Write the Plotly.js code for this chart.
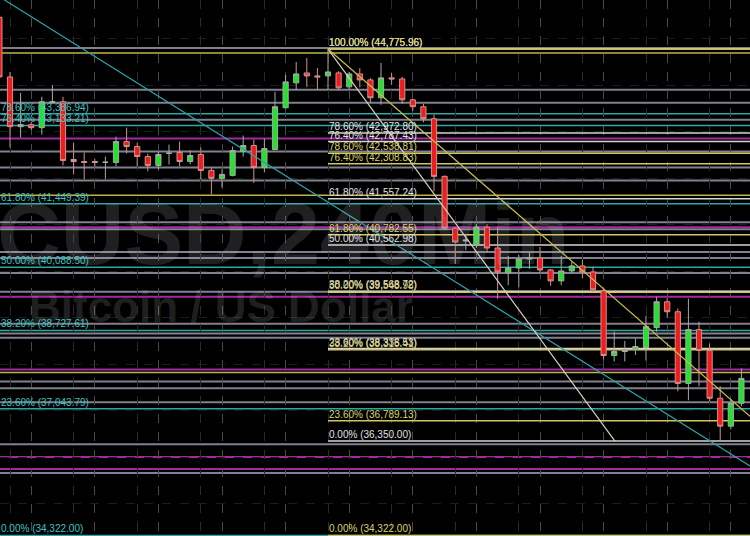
<!DOCTYPE html>
<html><head><meta charset="utf-8">
<script src="https://cdn.plot.ly/plotly-3.0.1.min.js"></script>
<style>html,body{margin:0;padding:0;background:#000;}#chart{width:750px;height:536px;}</style>
</head><body><div id="chart"></div>
<script>
// ---- candle data (240 min bars, BTC/USD) ----
const opens  = [45460,44177,43108,43151,43087,43621,43643,42402,42359,42359,42338,42338,42787,42680,42466,42274,42531,42552,42359,42509,42167,41996,42060,42574,42702,42231,42616,43514,44049,44263,44199,44199,44263,43963,44241,44113,43728,44156,44134,43685,43536,43279,42039,40927,40650,40563,40948,40499,39965,40071,40264,40285,40029,39793,40007,40114,39986,39579,38189,38275,38318,38360,38788,39344,39130,37590,38745,38296,37270,36671,37163];
const highs  = [45560,44284,43835,43215,43750,44006,43750,42766,42552,42420,42466,42894,43087,42766,42530,42574,42723,42787,42600,42659,42231,42188,42680,42916,42830,42851,43857,44220,44498,44584,44370,44775.96,44300,44280,44370,44150,44477,44263,44177,43700,43600,43365,42060,40950,40800,41012,41012,40948,40328,40350,40400,40521,40050,40328,40200,40250,40100,39650,38703,38500,38550,39045,39451,39420,39200,39408,38917,38446,37526,37250,37911];
const lows   = [44120,42659,42873,43044,42937,43600,42274,42081,41974,42250,41974,42253,42531,42253,42150,42188,42295,42253,42300,41974,41654,41803,42039,42466,41900,42124,42600,43500,43899,43963,43899,43899,43900,43900,43950,43621,43578,44006,43600,43450,43200,41718,40900,40157,40450,40500,40400,39408,39700,39650,40050,39950,39686,39700,39960,39850,39550,38100,38061,38061,38200,38082,38700,39000,37420,37227,37526,37200,36350,36600,37098];
const closes = [44177,43108,43151,43087,43643,43643,42381,42359,42338,42338,42345,42787,42680,42466,42274,42509,42540,42359,42488,42167,41996,42081,42595,42702,42231,42637,43536,44070,44241,44199,44177,44284,43942,44241,44113,43728,44156,44134,43685,43536,43279,42039,40927,40627,40670,40948,40499,39986,40071,40264,40285,40029,39793,40007,40114,39986,39601,38189,38275,38318,38382,38809,39344,39130,37590,38745,38296,37270,36671,37163,37697];
const barIndex = opens.map((_, i) => i);

// ---- Fibonacci retracement levels (as labelled) ----
const cyanFibPrices  = [43386.94, 43133.21, 41449.39, 40088.50, 38727.61, 37043.79, 34322.00];
const cyanFibLabels  = ['78.60% (43,386.94)','76.40% (43,133.21)','61.80% (41,449.39)','50.00% (40,088.50)','38.20% (38,727.61)','23.60% (37,043.79)','0.00% (34,322.00)'];
const whiteFibPrices = [44775.96, 42972.80, 42787.43, 41557.24, 40562.98, 39568.72, 38338.53, 36350.00];
const whiteFibLabels = ['100.00% (44,775.96)','78.60% (42,972.80)','76.40% (42,787.43)','61.80% (41,557.24)','50.00% (40,562.98)','38.20% (39,568.72)','23.60% (38,338.53)','0.00% (36,350.00)'];
const yellowFibPrices = [44775.96, 42538.81, 42308.83, 40782.55, 39548.98, 38315.41, 36789.13, 34322.00];
const yellowFibLabels = ['100.00% (44,775.96)','78.60% (42,538.81)','76.40% (42,308.83)','61.80% (40,782.55)','50.00% (39,548.98)','38.20% (38,315.41)','23.60% (36,789.13)','0.00% (34,322.00)'];
const fibAnchorBar = 31;

// ---- support / resistance levels ----
const greyLevels    = [44800, 43899, 43621, 43258, 42573, 42231, 41953, 41055, 40905, 40413, 40285, 39965, 39558, 38874, 38660, 38573, 37633, 37483, 37184, 36280, 35666];
const magentaLevels = [42851, 40948, 39451, 37890, 36008, 35751];
const yellowLevels  = [44690, 41632, 37826];

// ---- trend lines ----
const cyanTrendX  = [0, 70.81];
const cyanTrendY  = [45899, 35816];
const whiteTrendX = [31, 58.07];
const whiteTrendY = [44775.96, 36350];
const yellowTrendX = [31, 70.81];
const yellowTrendY = [44775.96, 36885];

const xRange = [0.057, 70.81];
const yRange = [34310, 45830];

const shapes = [];
function hline(p, color, width, fromBar) {
  if (fromBar === undefined) {
    shapes.push({type:'line', layer:'between', xref:'paper', x0:0, x1:1, yref:'y', y0:p, y1:p, line:{color:color, width:width}});
  } else {
    shapes.push({type:'line', layer:'between', xref:'x', x0:fromBar, x1:xRange[1], yref:'y', y0:p, y1:p, line:{color:color, width:width}});
  }
}
greyLevels.forEach(p => hline(p, 'rgba(170,172,190,0.75)', 2));
magentaLevels.forEach(p => hline(p, '#a02aa0', 2));
yellowLevels.forEach(p => hline(p, '#bcb44a', 1.5));
cyanFibPrices.forEach(p => hline(p, '#2fa6a6', 1.5));
whiteFibPrices.forEach(p => hline(p, '#d4d4d4', 1.5, fibAnchorBar));
yellowFibPrices.forEach(p => hline(p, '#cfc660', 1.5, fibAnchorBar));

const annotations = [];
// watermark
annotations.push({xref:'paper', yref:'paper', x:0.299, y:0.565, xanchor:'center', yanchor:'middle', showarrow:false,
  text:'BTCUSD,240Min', font:{family:'Liberation Sans, Arial', size:88, weight:'bold', color:'rgba(200,200,200,0.16)'}});
annotations.push({xref:'paper', yref:'paper', x:0.295, y:0.428, xanchor:'center', yanchor:'middle', showarrow:false,
  text:'Bitcoin / US Dollar', font:{family:'Liberation Sans, Arial', size:44, weight:'bold', color:'rgba(200,200,200,0.16)'}});
function label(txt, p, color, xref, x) {
  annotations.push({xref:xref, x:x, yref:'y', y:p, xanchor:'left', yanchor:'bottom', showarrow:false, borderpad:0,
    text:txt, font:{family:'Liberation Sans, Arial', size:10, color:color}});
}
cyanFibPrices.forEach((p, i) => label(cyanFibLabels[i], p, '#3cc4c4', 'paper', 0));
whiteFibPrices.forEach((p, i) => label(whiteFibLabels[i], p, '#e2e2e2', 'x', fibAnchorBar));
yellowFibPrices.forEach((p, i) => label(yellowFibLabels[i], p, '#dcd468', 'x', fibAnchorBar));

const traces = [
  {type:'candlestick', x:barIndex, open:opens, high:highs, low:lows, close:closes,
   increasing:{fillcolor:'#22e22a', line:{color:'#a8a8a8', width:1}},
   decreasing:{fillcolor:'#ee1c1c', line:{color:'#d09090', width:1}},
   whiskerwidth:0, hoverinfo:'skip', showlegend:false},
  {type:'scatter', mode:'lines', x:cyanTrendX, y:cyanTrendY, line:{color:'#2ea0a8', width:1.2}, showlegend:false, hoverinfo:'skip'},
  {type:'scatter', mode:'lines', x:whiteTrendX, y:whiteTrendY, line:{color:'#d8d0c0', width:1.2}, showlegend:false, hoverinfo:'skip'},
  {type:'scatter', mode:'lines', x:yellowTrendX, y:yellowTrendY, line:{color:'#c8bc50', width:1.2}, showlegend:false, hoverinfo:'skip'}
];

const layout = {
  width:750, height:536, margin:{l:0, r:0, t:0, b:0},
  paper_bgcolor:'#000', plot_bgcolor:'#000', showlegend:false,
  xaxis:{range:xRange, showticklabels:false, ticks:'', zeroline:false, showline:false,
    rangeslider:{visible:false},
    showgrid:true, tick0:3, dtick:6, gridcolor:'#4a4a4a', griddash:'dash', gridwidth:1,
    minor:{tick0:1, dtick:6, showgrid:true, gridcolor:'#2a2a2a', griddash:'dash', gridwidth:1}},
  yaxis:{range:yRange, showticklabels:false, ticks:'', zeroline:false, showline:false,
    showgrid:true, dtick:1000, gridcolor:'#1c1c1c', griddash:'dash'},
  shapes:shapes, annotations:annotations
};
Plotly.newPlot('chart', traces, layout, {staticPlot:true, displayModeBar:false});
</script></body></html>
